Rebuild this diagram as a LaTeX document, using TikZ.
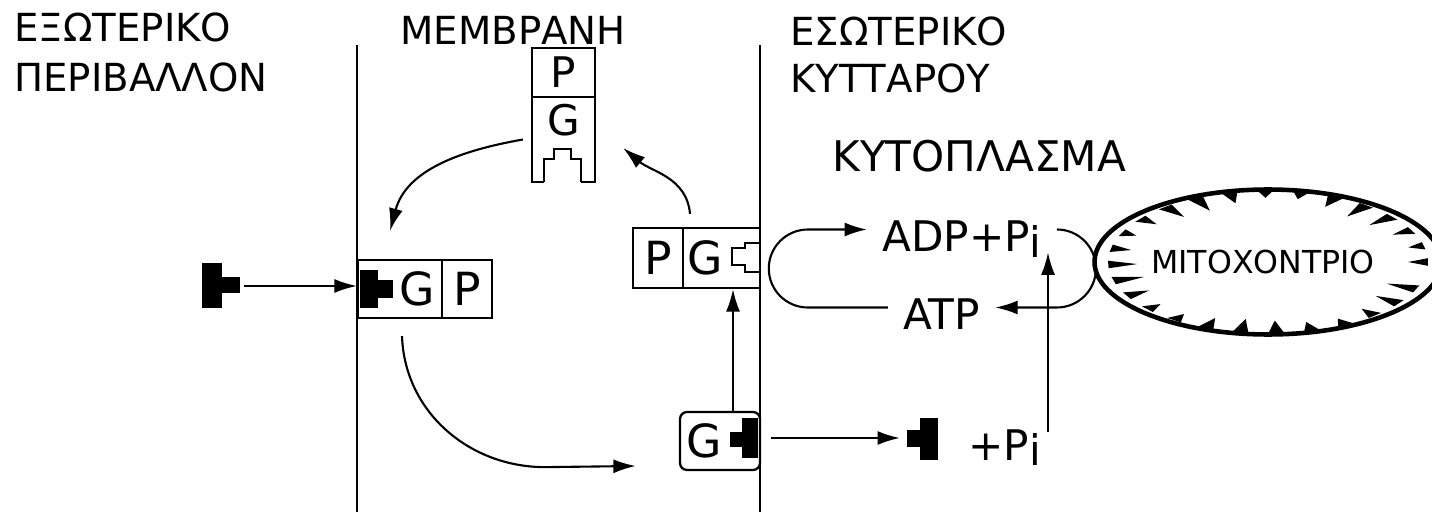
\documentclass[tikz,border=0pt]{standalone}
\usepackage{fontspec}
\setmainfont{DejaVu Sans}
\usetikzlibrary{arrows.meta,shapes.geometric}

\begin{document}
\begin{tikzpicture}[x=0.02cm, y=0.02cm,
        title/.style={anchor=base west, inner sep=0pt, font=\fontsize{22}{26}\selectfont},
        box/.style={draw, line width=1.3pt, inner sep=0pt, font=\fontsize{26}{30}\selectfont},
        chem/.style={inner xsep=0.3cm, inner ysep=0pt, text height=0.9cm, text depth=0pt, font=\fontsize{24}{28}\selectfont},
        arr/.style={line width=1.2pt, -{Latex[length=0.45cm, width=0.28cm]}},
        membrane/.style={line width=1.6pt}]
        \useasboundingbox (0,0) rectangle (1432,514);

        \node[title] (exo1) at (14,472) {ΕΞΩΤΕΡΙΚΟ};
        \node[title] (exo2) at (14,422) {ΠΕΡΙΒΑΛΛΟΝ};
        \node[title] (memb) at (400,469) {ΜΕΜΒΡΑΝΗ};
        \node[title] (eso1) at (790,468) {ΕΣΩΤΕΡΙΚΟ};
        \node[title] (eso2) at (790,421) {ΚΥΤΤΑΡΟΥ};
        \node[title, font=\fontsize{24}{28}\selectfont] (cyto) at (832,342) {ΚΥΤΟΠΛΑΣΜΑ};

        \node[box, minimum width=1.26cm, minimum height=0.98cm, font=\fontsize{24}{28}\selectfont] (sP) at (563.5,441.5) {P};
        \node[box, minimum width=1.26cm, minimum height=1.7cm, font=\fontsize{24}{28}\selectfont] (sG) at (563.5,374.5) {\raisebox{0.78cm}{G}};
        \fill[white] (544,329) rectangle (581,355);
        \fill[white] (554,354) rectangle (571,365);
        \draw[line width=1.3pt] (544,332) -- (544,355) -- (554,355) -- (554,365) -- (571,365) -- (571,355) -- (581,355) -- (581,332);

        \node[box, minimum width=1.0cm, minimum height=1.2cm] (pgP) at (658,256) {P};
        \node[box, minimum width=1.54cm, minimum height=1.2cm] (pgG) at (721.5,256) {G\rule{0.66cm}{0pt}};
        \fill[white] (745,242) rectangle (762,271);
        \fill[white] (731,249) rectangle (746,266);
        \draw[line width=1.3pt] (760,271) -- (745,271) -- (745,266) -- (732,266) -- (732,249) -- (745,249) -- (745,242) -- (760,242);

        \node[box, minimum width=1.68cm, minimum height=1.16cm] (gpG) at (400,225) {\rule{0.68cm}{0pt}G};
        \node[box, minimum width=1.0cm, minimum height=1.16cm] (gpP) at (467,225) {P};
        \fill (360,206) rectangle (378,244);
        \fill (377,216) rectangle (393,234);

        \node[box, rounded corners=4pt, minimum width=1.6cm, minimum height=1.16cm] (gB) at (720,73) {G\rule{0.62cm}{0pt}};
        \fill (742,56) rectangle (758,96);
        \fill (730,67) rectangle (743,82);

        \fill (202,206) rectangle (222,251);
        \fill (221,221) rectangle (240,237);
        \coordinate (lig1) at (244,228);

        \fill (920,54) rectangle (938,96);
        \fill (907,67) rectangle (921,84);
        \coordinate (lig3) at (900,76);
        \node[title, font=\fontsize{24}{28}\selectfont] (pi) at (968,54) {+P\raisebox{-0.12em}{i}};
        \coordinate (vb) at (1048,82);

        \node[chem] (adp) at (962,284.5) {ADP+P\raisebox{-0.12em}{i}};
        \node[chem] (atp) at (941.5,206.5) {ATP};

        \node[draw, ellipse, line width=2.6pt, minimum width=6.4cm, minimum height=2.9cm, font=\fontsize{18}{22}\selectfont] (mito) at (1268,252) {ΜΙΤΟΧΟΝΤΡΙΟ\rule{0.2cm}{0pt}};
        \foreach \a in {0,13,...,350} {
            \pgfmathsetmacro\f{0.85+0.05*sin(5*\a+30)}
            \fill ({1268+160*cos(\a-3)},{252+72*sin(\a-3)}) -- ({1268+160*cos(\a+3)},{252+72*sin(\a+3)}) -- ({1268+160*\f*cos(\a)},{252+72*\f*sin(\a)}) -- cycle;
        }

        \draw[membrane] (357,469) -- (357,2);
        \draw[membrane] (760,469) -- (760,2);

        \draw[arr] (lig1) -- (lig1 -| gpG.west);
        \draw[arr] ([xshift=-0.16cm]sG.west) to[out=190, in=75] ([shift={(-0.2cm,0.56cm)}]gpG.north);
        \draw[arr] ([shift={(-0.63cm,0.26cm)}]pgG.north) to[out=95, in=-40] ([shift={(0.54cm,-0.17cm)}]sG.east);
        \draw[arr] ([shift={(0.04cm,-0.34cm)}]gpG.south) to[out=-88, in=180] ++(143,-131) -- ([shift={(-0.86cm,-0.5cm)}]gB.west);
        \draw[arr] ([xshift=0.26cm]gB.north) -- ([xshift=0.26cm]gB.north |- pgG.south);
        \draw[arr] ([xshift=0.2cm]gB.east |- lig3) -- (lig3);
        \draw[arr] (vb) -- (vb |- adp.south);
        \draw[arr] (atp.west) -- ++(-80,0) arc[start angle=270, end angle=90, radius=0.78cm] -- (adp.west);
        \draw[arr] (adp.east) arc[start angle=90, end angle=-90, radius=0.78cm] -- (atp.east);
\end{tikzpicture}
\end{document}
